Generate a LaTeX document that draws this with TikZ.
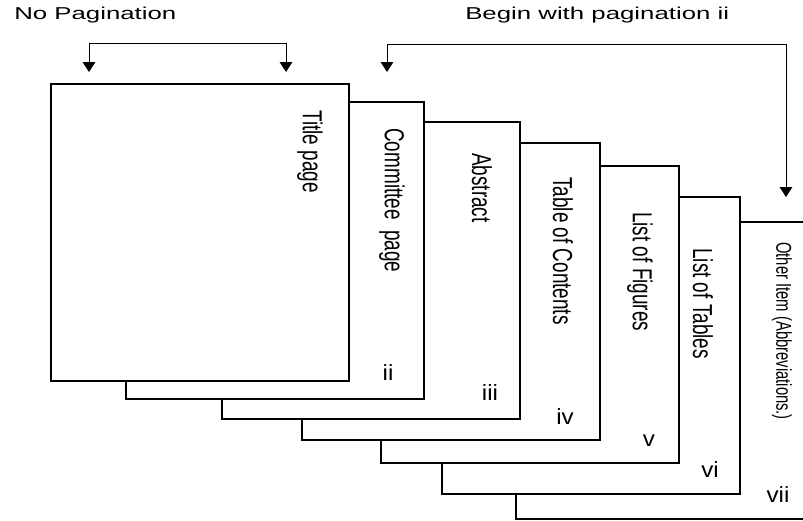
\documentclass[tikz,border=0pt]{standalone}
\usepackage{fontspec}
\setmainfont{Liberation Sans}
\usepackage{tikz}
\usetikzlibrary{arrows.meta}
\newcommand{\sidetext}[1]{\scalebox{1}[1.45]{#1}}
\newcommand{\widetext}[1]{\scalebox{1.5}[1]{#1}}
\newcommand{\numtext}[1]{\scalebox{1.1}[1]{#1}}

\begin{document}
\begin{tikzpicture}[
  x=0.75pt, y=-0.75pt,
  page/.style={draw, line width=1.5pt, fill=white, minimum width=223.5pt,
               minimum height=222.75pt, inner sep=0pt},
  pagelabel/.style={rotate=-90, anchor=west, inner sep=0pt,
                    font=\fontsize{14.2pt}{17pt}\selectfont},
  numeral/.style={inner sep=0pt, font=\fontsize{16.5pt}{19pt}\selectfont},
  toplabel/.style={inner sep=0pt, anchor=west, font=\fontsize{12.9pt}{15pt}\selectfont},
  arrow/.style={-{Triangle[width=9.5pt, length=7.5pt]}, line width=0.75pt}
]
  \useasboundingbox (0,0) rectangle (803,521);
  \clip (0,0) rectangle (803,521);

  % Pages, back to front
  \node[page] (other) at (665,370.5) {};
  \node[page] (tables) at (591,345) {};
  \node[page] (figures) at (530,314.5) {};
  \node[page] (contents) at (451,291.5) {};
  \node[page] (abstract) at (371,270.5) {};
  \node[page] (committee) at (275,250.5) {};
  \node[page] (title) at (200,232.5) {};

  % Page titles
  \node[pagelabel] (titletxt) at (310,110) {\sidetext{Title page}};
  \node[pagelabel] (committeetxt) at (392,128) {\sidetext{Committee\ \ page}};
  \node[pagelabel] (abstracttxt) at (482,153) {\sidetext{Abstract}};
  \node[pagelabel] (contentstxt) at (563,177) {\sidetext{Table of Contents}};
  \node[pagelabel] (figurestxt) at (640,212) {\sidetext{List of Figures}};
  \node[pagelabel] (tablestxt) at (703,248) {\sidetext{List of Tables}};
  \node[pagelabel, font=\fontsize{11.1pt}{13pt}\selectfont] (othertxt) at (782,242)
    {\sidetext{Other Item (Abbreviations.)}};

  % Page numbers
  \node[numeral] (num2) at (388,373) {\numtext{ii}};
  \node[numeral] (num3) at (490,393) {\numtext{iii}};
  \node[numeral] (num4) at (565,417) {\numtext{iv}};
  \node[numeral] (num5) at (649,441) {\numtext{v}};
  \node[numeral] (num6) at (710,470) {\numtext{vi}};
  \node[numeral] (num7) at (778,495) {\numtext{vii}};

  % Headings
  \node[toplabel] (nopag) at (14,15) {\widetext{No Pagination}};
  \node[toplabel] (beginpag) at (465,15) {\widetext{Begin with pagination ii}};

  % Brackets
  \coordinate (np1) at (89,72);
  \coordinate (np2) at (286,72);
  \coordinate (bp1) at (387,72);
  \coordinate (bp2) at (786,197);
  \draw[arrow] (np2) ++(0,-29) -| (np1);
  \draw[arrow] (np1) ++(0,-29) -| (np2);
  \draw[arrow] (bp2) ++(0,-153) -| (bp1);
  \draw[arrow] (bp1) ++(0,-28) -| (bp2);

\end{tikzpicture}
\end{document}
